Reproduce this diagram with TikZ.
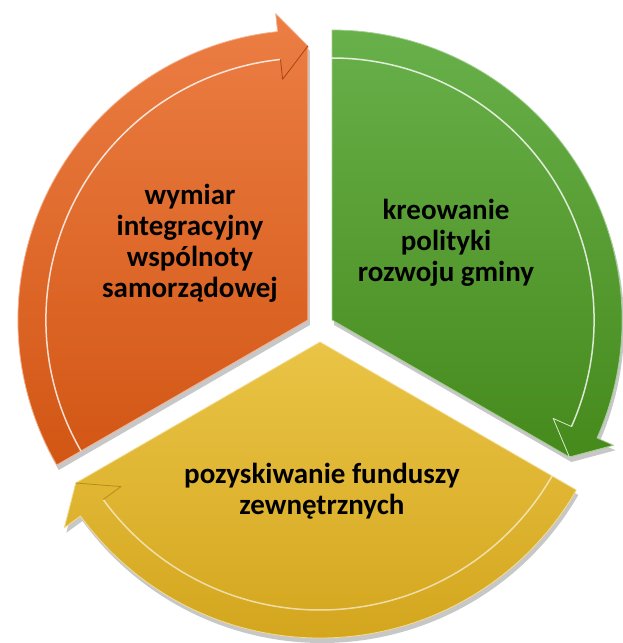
\documentclass[tikz,border=0pt]{standalone}
\usepackage{fontspec}
\setmainfont{Carlito}
\usetikzlibrary{calc,shadows}
\definecolor{orTop}{RGB}{236,126,68}
\definecolor{orBot}{RGB}{210,86,20}
\definecolor{grTop}{RGB}{104,176,74}
\definecolor{grBot}{RGB}{70,138,28}
\definecolor{yeTop}{RGB}{234,196,70}
\definecolor{yeBot}{RGB}{212,166,30}
\tikzset{
  seg/.style={drop shadow={shadow xshift=2pt,shadow yshift=-5pt,opacity=0.22,fill=black}},
  rim/.style={line width=1.5pt,white,opacity=0.8,line join=round},
  edge/.style={line width=0.8pt,line join=round},
  lbl/.style={align=center,font=\bfseries\fontsize{29}{31}\selectfont,text=black}
}
\def\Ro{290}
\def\Ri{262}
\def\Rb{308}
\def\Rbi{242}
\def\Rt{274}
\def\Roy{296}
\def\Riy{268}
\def\Rby{316}
\def\Rbiy{246}
\def\Rty{282}
\begin{document}
\begin{tikzpicture}[x=1pt,y=1pt]
\useasboundingbox (-320,327) rectangle (303,-316);
\coordinate (o1) at (-12.1,7);
\coordinate (o2) at (12.1,7);
\coordinate (o3) at (0,-15);
% orange segment
\path[seg,top color=orTop,bottom color=orBot]
  (o1) -- ($(o1)+(210:\Ro)$) arc[start angle=210,end angle=96,radius=\Ro]
  -- ($(o1)+(96:\Rb)$) -- ($(o1)+(90:\Rt)$) -- cycle;
\draw[edge,orTop!60!white] (o1) -- ($(o1)+(210:\Ro)$) arc[start angle=210,end angle=96,radius=\Ro]
  -- ($(o1)+(96:\Rb)$) -- ($(o1)+(90:\Rt)$) -- cycle;
\draw[rim] ($(o1)+(210:\Ri)$) arc[start angle=210,end angle=96,radius=\Ri];
\draw[edge,orBot!80!black] ($(o1)+(96:\Ri)$) -- ($(o1)+(96:\Rbi)$) -- ($(o1)+(90:\Rt)$);
% green segment
\path[seg,top color=grTop,bottom color=grBot]
  (o2) -- ($(o2)+(90:\Ro)$) arc[start angle=90,end angle=-24,radius=\Ro]
  -- ($(o2)+(-24:\Rb)$) -- ($(o2)+(-30:\Rt)$) -- cycle;
\draw[edge,grTop!60!white] (o2) -- ($(o2)+(90:\Ro)$) arc[start angle=90,end angle=-24,radius=\Ro]
  -- ($(o2)+(-24:\Rb)$) -- ($(o2)+(-30:\Rt)$) -- cycle;
\draw[rim] ($(o2)+(90:\Ri)$) arc[start angle=90,end angle=-24,radius=\Ri];
\draw[edge,white,opacity=0.8] ($(o2)+(-24:\Ri)$) -- ($(o2)+(-24:\Rbi)$) -- ($(o2)+(-30:\Rt)$);
% yellow segment
\path[seg,top color=yeTop,bottom color=yeBot]
  (o3) -- ($(o3)+(-30:\Roy)$) arc[start angle=-30,end angle=-144,radius=\Roy]
  -- ($(o3)+(-144:\Rby)$) -- ($(o3)+(-150:\Rty)$) -- cycle;
\draw[edge,yeTop!60!white] (o3) -- ($(o3)+(-30:\Roy)$) arc[start angle=-30,end angle=-144,radius=\Roy]
  -- ($(o3)+(-144:\Rby)$) -- ($(o3)+(-150:\Rty)$) -- cycle;
\draw[rim,opacity=0.6] ($(o3)+(-30:\Riy)$) arc[start angle=-30,end angle=-144,radius=\Riy];
\draw[edge,yeBot!85!black] ($(o3)+(-144:\Riy)$) -- ($(o3)+(-144:\Rbiy)$) -- ($(o3)+(-150:\Rty)$);
% labels
\node[lbl] (t1) at (-130,84) {wymiar\\integracyjny\\wspólnoty\\samorządowej};
\node[lbl] (t2) at (126,84) {kreowanie\\polityki\\rozwoju gminy};
\node[lbl] (t3) at (2,-164) {pozyskiwanie funduszy\\zewnętrznych};
\end{tikzpicture}
\end{document}
